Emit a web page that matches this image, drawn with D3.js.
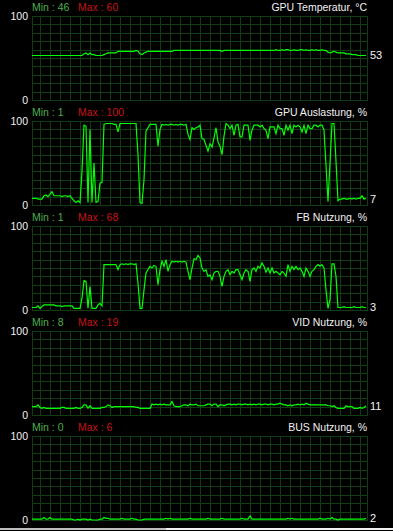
<!DOCTYPE html>
<html><head><meta charset="utf-8">
<script src="https://cdn.jsdelivr.net/npm/d3@7/dist/d3.min.js"></script>
<style>html,body{margin:0;padding:0;background:#000;}svg{display:block;}text{font-family:'Liberation Sans',Arial,sans-serif;}</style>
</head><body><svg id="c" width="393" height="531"></svg>
<script>
const titles = ["GPU Temperatur, °C", "GPU Auslastung, %", "FB Nutzung, %", "VID Nutzung, %", "BUS Nutzung, %"];
const mins = [46, 1, 1, 8, 0];
const maxs = [60, 100, 68, 19, 6];
const currents = [53, 7, 3, 11, 2];
const yTicks = [0, 100];

const gpuTemp = [
53,53,53,53,53,53,53,53,53,53,
53,53,53,53,53,53,53,53,53,53,
53,53,53,53,53,53,55,56,54,56,
54,54,53,53,53,53,54,55,56,56,
56,56,56,58,58,58,58,58,58,58,
58,58,59,58,55,54,56,57,58,58,
58,58,58,58,58,58,58,58,58,58,
58,59,59,59,59,59,59,59,59,59,
59,59,59,59,59,59,59,59,59,59,
59,59,59,59,59,58,59,59,59,59,
59,59,59,59,59,59,59,59,59,59,
59,59,59,59,59,59,59,59,59,59,
59,59,60,59,59,60,59,60,60,59,
59,60,59,59,60,60,59,60,59,59,
60,59,60,59,59,60,59,59,57,56,
57,58,57,56,56,56,56,55,55,55,
54,54,54,53,53,53,53,53];

const gpuLoad = [
8,8,8,7,7,7,11,12,10,13,
16,11,11,11,11,10,11,11,10,11,
8,5,3,5,3,40,95,94,3,90,
3,50,3,4,26,27,96,97,97,97,
97,96,96,87,97,97,97,97,97,97,
97,97,97,60,3,2,30,88,92,96,
96,96,96,70,90,96,95,96,95,96,
96,95,96,95,96,96,95,96,84,78,
92,90,92,93,95,79,78,71,64,73,
69,80,92,75,70,60,82,97,95,91,
95,83,95,96,81,81,95,95,95,77,
89,95,95,95,93,95,91,89,79,93,
93,93,85,95,91,91,83,95,89,95,
85,95,93,95,93,87,95,85,95,91,
91,95,95,93,95,95,89,48,4,50,
97,97,52,5,7,7,8,7,7,8,
7,8,7,8,8,11,7,8];

const fbUsage = [
3,3,3,5,2,4,6,6,6,6,
6,6,5,5,5,4,5,5,5,5,
5,2,2,2,2,14,35,34,2,28,
2,2,2,6,8,5,54,54,54,54,
54,54,54,48,54,55,54,55,54,55,
55,54,55,32,2,2,24,44,48,52,
50,53,52,30,48,58,52,60,46,54,
58,57,58,57,58,57,58,57,46,36,
50,61,60,65,62,50,46,48,40,42,
36,44,46,46,40,28,40,46,48,42,
46,44,48,48,42,36,44,48,46,34,
48,50,46,52,50,56,52,45,50,44,
50,44,46,44,42,46,44,40,54,46,
52,48,52,48,50,46,40,50,46,40,
46,48,52,54,52,54,50,24,2,12,
55,55,40,3,3,3,4,3,3,3,
3,4,3,3,3,4,3,3];

const vidUsage = [
10,10,10,12,9,8,9,8,8,8,
8,8,8,8,8,9,9,8,8,8,
8,8,9,8,8,9,12,12,8,11,
8,8,8,8,8,9,9,10,12,11,
9,10,10,10,10,10,10,10,10,10,
10,10,9,9,8,8,8,8,8,8,
13,12,13,12,13,12,13,12,12,12,
16,11,10,10,10,11,12,12,11,13,
12,12,13,11,11,11,11,12,13,13,
11,13,13,10,12,12,11,12,13,13,
12,13,12,13,13,12,13,13,12,13,
12,13,12,13,13,12,13,13,12,13,
13,12,13,13,14,13,12,12,11,12,
11,12,12,13,12,13,12,14,13,12,
12,12,12,12,12,12,12,12,11,11,
10,11,9,8,8,8,8,11,10,10,
10,8,8,8,9,8,9,11];

const busUsage = [
1,1,1,1,1,1,3,1,1,3,
1,1,1,1,1,1,1,1,1,1,
1,0,0,1,0,1,1,1,0,1,
0,0,0,0,1,1,3,2,2,1,
1,1,1,1,1,2,1,1,1,1,
2,1,1,0,0,0,1,1,1,1,
1,1,1,1,1,1,1,2,1,2,
1,1,1,1,1,1,1,1,1,2,
1,1,1,1,1,1,1,1,2,1,
1,1,1,1,1,2,1,1,1,1,
1,1,1,1,1,2,1,1,1,5,
1,1,1,1,1,1,1,1,1,1,
1,1,1,1,1,1,1,1,2,1,
2,1,1,1,1,1,1,1,1,1,
1,1,1,1,2,1,1,1,2,1,
3,1,1,0,1,1,1,1,1,1,
1,1,1,1,1,1,1,2];

const series = [gpuTemp, gpuLoad, fbUsage, vidUsage, busUsage];

const svg = d3.select("#c");
const W = 393, H = 531;
const left = 32, right = 367, plotH = 84, firstTop = 16, gap = 105;
const n = gpuTemp.length;
const x = d3.scaleLinear().domain([0, n - 1]).range([left, 366]);
const gridColor = "#123d12";
const lineColor = "#00ff00";

series.forEach((data, k) => {
  const top = firstTop + k * gap, bottom = top + plotH;
  const y = d3.scaleLinear().domain([0, 100]).range([bottom, top]);
  const g = svg.append("g");

  // horizontal grid
  g.selectAll("line.h").data(d3.range(0, 101, 10)).join("line")
    .attr("x1", left).attr("x2", right)
    .attr("y1", d => Math.round(y(d)) + 0.5).attr("y2", d => Math.round(y(d)) + 0.5)
    .attr("stroke", gridColor).attr("stroke-width", 1);
  // vertical grid
  const vIdx = [0].concat(d3.range(4, n, 5));
  g.selectAll("line.v").data(vIdx).join("line")
    .attr("x1", d => Math.round(x(d)) + 0.5).attr("x2", d => Math.round(x(d)) + 0.5)
    .attr("y1", top).attr("y2", bottom + 1)
    .attr("stroke", gridColor).attr("stroke-width", 1);
  g.append("line").attr("x1", right + 0.5).attr("x2", right + 0.5)
    .attr("y1", top).attr("y2", bottom + 1).attr("stroke", gridColor);

  // y axis labels
  const ax = d3.axisLeft(y).tickValues(yTicks).tickSize(0).tickPadding(4).tickFormat(d3.format("d"));
  const axg = svg.append("g").attr("transform", `translate(${left},0)`).call(ax);
  axg.select(".domain").remove();
  axg.selectAll("text").attr("fill", "#f2f2f2").style("font-size", "10.5px")
    .style("font-family", "'Liberation Sans',Arial,sans-serif");

  // line
  const line = d3.line().x((d, i) => x(i)).y(d => y(d));
  g.append("path").datum(data).attr("d", line)
    .attr("fill", "none").attr("stroke", lineColor).attr("stroke-width", 1.2)
    .attr("stroke-linejoin", "miter");

  // header
  const hy = top - 9;
  g.append("text").attr("x", left).attr("y", hy).attr("dy", "0.35em")
    .attr("fill", "#4caf4c").style("font-size", "10.5px").text("Min : " + mins[k]);
  g.append("text").attr("x", 78).attr("y", hy).attr("dy", "0.35em")
    .attr("fill", "#c41414").style("font-size", "10.5px").text("Max : " + maxs[k]);
  g.append("text").attr("x", right).attr("y", hy).attr("dy", "0.35em")
    .attr("text-anchor", "end").attr("fill", "#f2f2f2").style("font-size", "10.5px").text(titles[k]);

  // current value
  g.append("text").attr("x", 370).attr("y", y(currents[k])).attr("dy", "0.35em")
    .attr("fill", "#f2f2f2").style("font-size", "11px").text(currents[k]);
});

// bottom scrollbar strip
svg.append("rect").attr("x", 0).attr("y", 528).attr("width", 166).attr("height", 2).attr("fill", "#bdbdbd");
svg.append("rect").attr("x", 166).attr("y", 528).attr("width", W - 166).attr("height", 2).attr("fill", "#f2f2f2");
</script></body></html>
